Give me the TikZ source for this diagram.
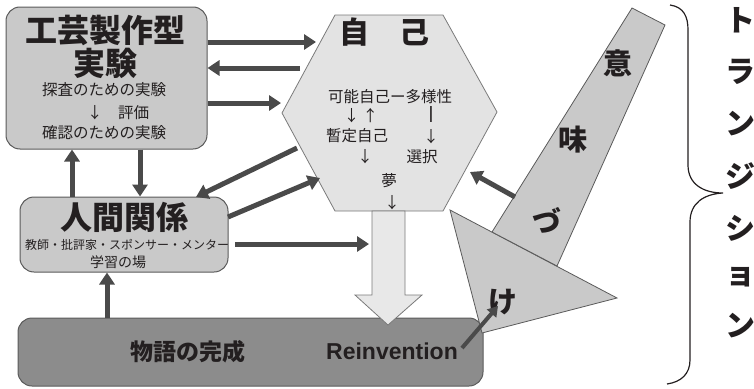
\documentclass[tikz,border=0pt]{standalone}
\usepackage{fontspec}
\setmainfont{Liberation Sans}
\newfontfamily\jp{Noto Sans CJK JP}
\usetikzlibrary{arrows.meta}
\definecolor{ink}{HTML}{231F20}
\definecolor{arr}{HTML}{4A4A4A}
\definecolor{boxg}{HTML}{C9C9C9}
\definecolor{hexg}{HTML}{E3E3E3}
\definecolor{bigarr}{HTML}{E8E8E8}
\definecolor{botg}{HTML}{8C8C8C}
\definecolor{edge}{HTML}{5A5A5A}
\definecolor{hedge}{HTML}{7A7A7A}
\newcommand\myfs[1]{\fontsize{#1}{#1}\selectfont}
\tikzset{
  box/.style={draw=edge, line width=1pt, rounded corners=14pt, fill=boxg, inner sep=0pt},
  con/.style={draw=arr, line width=5pt, -{Triangle[length=12pt,width=15pt]}},
  jt/.style={font=\jp, text=ink, inner sep=0pt},
  big/.style={jt, font=\jp\bfseries\myfs{32}},
  mid/.style={jt, font=\jp\myfs{15.5}},
  band/.style={draw=edge, line width=0.8pt, fill=boxg},
  vt/.style={jt, font=\jp\bfseries\myfs{30}},
}
\begin{document}
\begin{tikzpicture}[x=1pt,y=-1pt]
\useasboundingbox (0,0) rectangle (754,388);
% boxes
\node[box, minimum width=201pt, minimum height=142pt] (craft) at (106.5,78) {};
\node[box, minimum width=208pt, minimum height=75pt] (rel) at (124,234.5) {};
\node[box, fill=botg, draw=edge, minimum width=465pt, minimum height=68pt] (story) at (250.5,352) {};
% hexagon
\coordinate (h1) at (335,15); \coordinate (h2) at (443,15); \coordinate (h3) at (497,112);
\coordinate (h4) at (443,211); \coordinate (h5) at (335,211); \coordinate (h6) at (282,113);
\draw[fill=hexg, draw=hedge, line width=0.8pt] (h1) -- (h2) -- (h3) -- (h4) -- (h5) -- (h6) -- cycle;
% big hollow arrow
\draw[fill=bigarr, draw=hedge, line width=0.8pt] (372,211) -- (405,211) -- (405,295) -- (422,295) -- (388,325) coordinate (bigtip) -- (355,295) -- (372,295) -- cycle;
% triangle and band
\draw[band] (450,210) -- (617,298) -- (482,333) coordinate (trib) -- cycle;
\draw[band] (632,8) -- (665,25) -- (557,266) -- (492,232) -- cycle;
% coordinates for connectors
\coordinate (x72) at (72,0); \coordinate (x140) at (140,0); \coordinate (x107) at (107,0);
\coordinate (y42) at (0,42); \coordinate (y68) at (0,68); \coordinate (y103) at (0,103);
\coordinate (t1) at (316,42); \coordinate (s2) at (300,68); \coordinate (t3) at (281,103);
\coordinate (hs1) at (297,148); \coordinate (ht2) at (320,178);
\coordinate (rs) at (235,244); \coordinate (rt) at (369,244);
\coordinate (bs) at (515,197); \coordinate (bt) at (470,172);
\coordinate (ks) at (462,348); \coordinate (kt) at (498,306);
\coordinate (rtop) at (196,197); \coordinate (rside) at (228,217);
% connectors
\draw[con] (craft.east |- y42) -- (t1);
\draw[con] (s2) -- (craft.east |- y68);
\draw[con] (craft.east |- y103) -- (t3);
\draw[con] (rel.north -| x72) -- (craft.south -| x72);
\draw[con] (craft.south -| x140) -- (rel.north -| x140);
\draw[con] (story.north -| x107) -- (rel.south -| x107);
\draw[con] (hs1) -- (rtop);
\draw[con] (rside) -- (ht2);
\draw[con] (rs) -- (rt);
\draw[con] (bs) -- (bt);
% texts box1
\node[big] (t_craft1) at (105,30) {工芸製作型};
\node[big] (t_craft2) at (105,63) {実験};
\node[mid] (t_c3) at (104,90) {探査のための実験};
\node[mid] (t_c4) at (118,113) {↓　評価};
\node[mid] (t_c5) at (104,133) {確認のための実験};
% texts hexagon
\node[jt, font=\jp\bfseries\myfs{30}] (t_self) at (384,32) {自　己};
\node[mid] (t_h1) at (390,97) {可能自己ー多様性};
\node[mid] (t_h2) at (361,116) {↓ ↑};
\node[jt, font=\jp\bfseries\myfs{14}] (t_h3) at (431,114) {|};
\node[mid] (t_h4) at (357,136) {暫定自己};
\node[mid] (t_h5) at (431,137) {↓};
\node[mid] (t_h6) at (365,157) {↓};
\node[mid] (t_h7) at (422,157) {選択};
\node[mid] (t_h8) at (389,181) {夢};
\node[mid] (t_h9) at (392,203) {↓};
% texts box2
\node[big] (t_rel) at (124,217) {人間関係};
\node[jt, font=\jp\myfs{12}] (t_r2) at (127,245) {教師・批評家・スポンサー・メンター};
\node[jt, font=\jp\myfs{14}] (t_r3) at (118,262) {学習の場};
% bottom
\node[jt, font=\jp\bfseries\myfs{23}] (t_story) at (188,352) {物語の完成};
\node[text=ink, inner sep=0pt, font=\bfseries\myfs{23}] (t_rein) at (392,351) {Reinvention};
% band texts
\node[jt, font=\jp\bfseries\myfs{29}] (t_i) at (618,63) {意};
\node[jt, font=\jp\bfseries\myfs{29}] (t_mi) at (573,140) {味};
\node[jt, font=\jp\bfseries\myfs{29}] (t_zu) at (547,220) {づ};
\node[jt, font=\jp\bfseries\myfs{29}] (t_ke) at (503,302) {け};
\draw[draw=arr, line width=4pt, -{Triangle[length=10pt,width=12pt]}] (ks) -- (kt);
% brace
\draw[ink, line width=1.2pt] (670,5) .. controls (684,7) and (688,17) .. (688,30) -- (688,165)
  .. controls (688,184) and (703,193) .. (723,193)
  .. controls (704,194) and (690,203) .. (690,222) -- (690,360)
  .. controls (690,374) and (681,382) .. (667,384);
% vertical text
\node[vt] (v1) at (740,20) {ト};
\node[vt] (v2) at (740,72) {ラ};
\node[vt] (v3) at (740,124) {ン};
\node[vt] (v4) at (740,176) {ジ};
\node[vt] (v5) at (740,228) {シ};
\node[vt] (v6) at (740,277) {ョ};
\node[vt] (v7) at (740,326) {ン};
\end{tikzpicture}
\end{document}
